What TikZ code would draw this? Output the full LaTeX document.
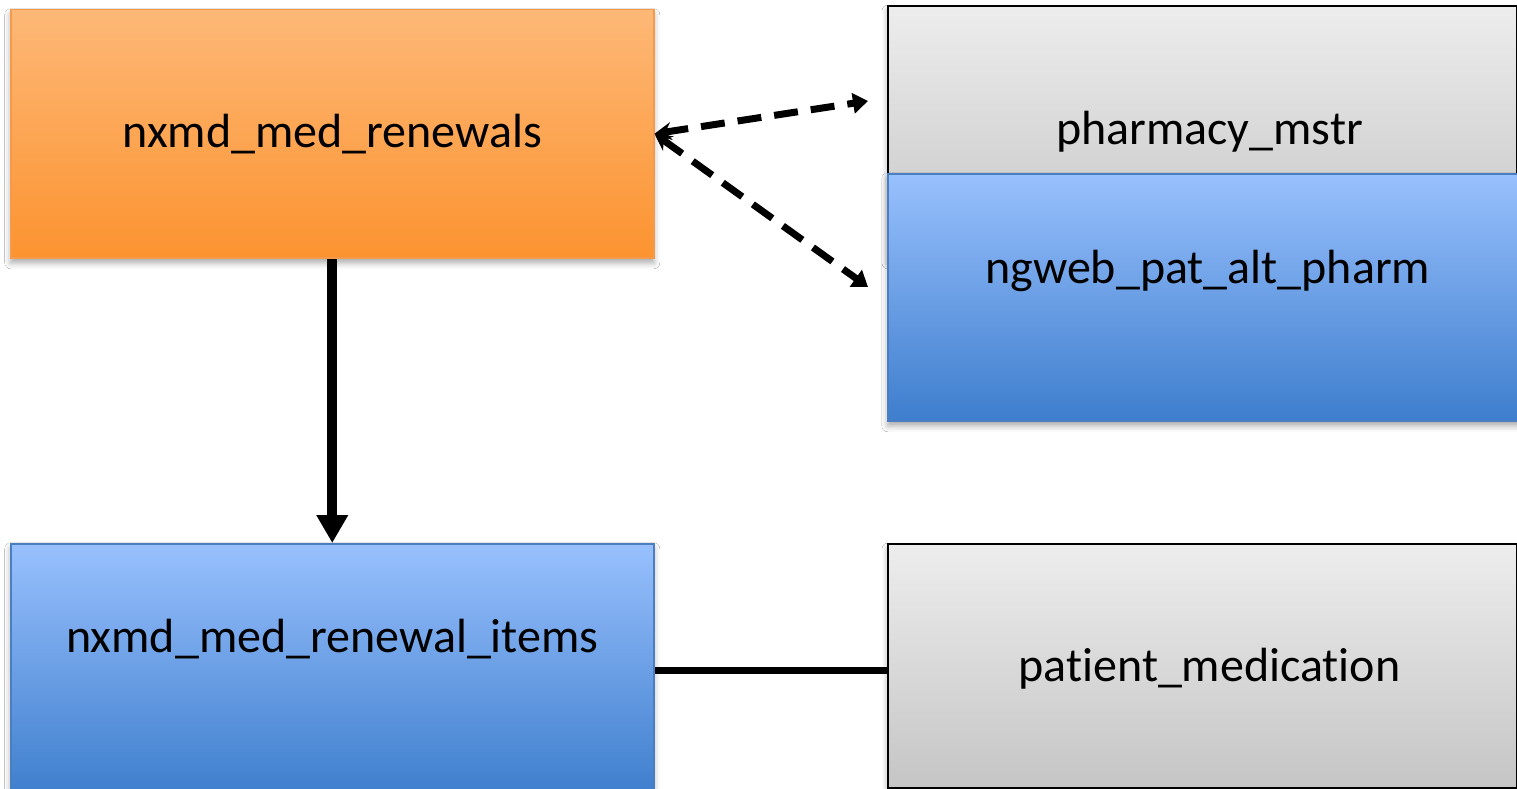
\documentclass[tikz,border=0pt]{standalone}
\usepackage{fontspec}
\setmainfont{Carlito}[Ligatures=NoCommon]
\usetikzlibrary{arrows.meta,shadows.blur}

\definecolor{orangeTop}{HTML}{FDB877}
\definecolor{orangeBot}{HTML}{FC9330}
\definecolor{orangeEdge}{HTML}{F59A4A}
\definecolor{blueTop}{HTML}{98C0FD}
\definecolor{blueBot}{HTML}{3E7ECD}
\definecolor{blueEdge}{HTML}{4A7EC0}
\definecolor{grayTop}{HTML}{EDEDED}
\definecolor{grayBot}{HTML}{C5C5C5}

\tikzset{
  tabletext/.style={font=\fontsize{48}{56}\selectfont, inner sep=0pt},
  table/.style={anchor=north west, inner sep=0pt, tabletext,
    blur shadow={shadow xshift=0pt, shadow yshift=-5pt, shadow blur radius=6pt, shadow opacity=35}},
  orangetable/.style={table, draw=orangeEdge, line width=1.5pt, top color=orangeTop, bottom color=orangeBot},
  bluetable/.style={table, draw=blueEdge, line width=1.5pt, top color=blueTop, bottom color=blueBot},
  graytable/.style={table, draw=black, line width=2pt, top color=grayTop, bottom color=grayBot},
  fklink/.style={line width=7pt, dash pattern=on 24pt off 13pt,
    {Stealth[length=17pt,width=18pt,inset=6pt]}-{Triangle[length=15pt,width=20pt]}},
  parentlink/.style={line width=10pt, -{Triangle[length=28pt,width=30pt]}},
  plainlink/.style={line width=7pt}
}

\begin{document}
\begin{tikzpicture}[x=1pt,y=-1pt]
  \useasboundingbox (0,0) rectangle (1517,789);
  \fill[white] (0,0) rectangle (1517,789);

  % tables
  \node[orangetable, minimum width=643pt, minimum height=248pt] (renewals) at (10,9)
    {nxmd\_med\_renewals};
  \node[graytable, minimum width=629pt, minimum height=252pt,
    label={[name=pharmacyText, tabletext, xshift=7pt]center:pharmacy\_mstr}]
    (pharmacy) at (887,5) {};
  \node[bluetable, minimum width=640pt, minimum height=247pt,
    label={[name=ngwebText, tabletext, yshift=26pt]center:ngweb\_pat\_alt\_pharm}]
    (ngweb) at (887,173) {};
  \node[bluetable, minimum width=643pt, minimum height=252pt,
    label={[name=itemsText, tabletext, yshift=31pt]center:nxmd\_med\_renewal\_items}]
    (items) at (10,543) {};
  \node[graytable, minimum width=629pt, minimum height=244pt,
    label={[name=patmedText, tabletext, xshift=7pt, yshift=-3pt]center:patient\_medication}]
    (patmed) at (887,543) {};

  % free ends of the dashed references
  \coordinate (toPharm) at (868,101);
  \coordinate (toAlt) at (868,287);

  % connectors
  \draw[fklink] (renewals.east) -- (toPharm);
  \draw[fklink] (renewals.east) -- (toAlt);
  \draw[parentlink] (renewals.south) -- (items.north);
  \draw[plainlink] ([yshift=-1pt]items.east) -- ([yshift=-1pt]items.east -| patmed.west);
\end{tikzpicture}
\end{document}
